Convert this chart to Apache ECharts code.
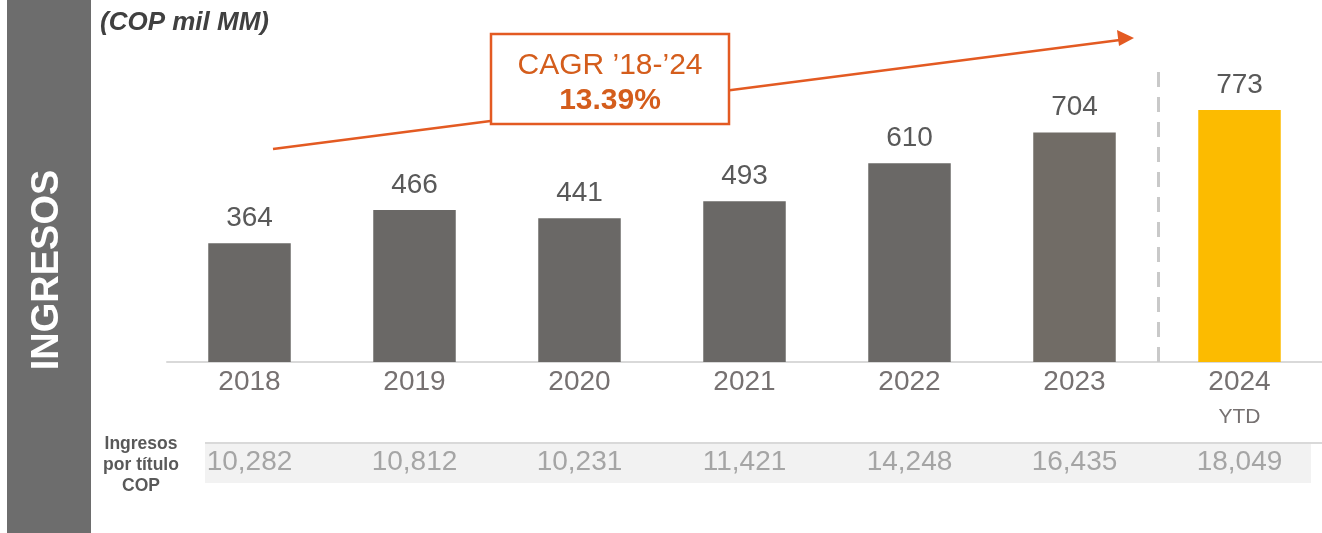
<!DOCTYPE html>
<html>
<head>
<meta charset="utf-8">
<script src="https://cdn.jsdelivr.net/npm/echarts@6/dist/echarts.min.js"></script>
<style>
  html, body { margin: 0; padding: 0; background: #fff; }
  #main { width: 1322px; height: 533px; }
</style>
</head>
<body>
<div id="main"></div>
<script>
var years = ['2018', '2019', '2020', '2021', '2022', '2023', '2024'];
var ingresos = [364, 466, 441, 493, 610, 704, 773];
var porTitulo = ['10,282', '10,812', '10,231', '11,421', '14,248', '16,435', '18,049'];
var barColors = ['#6a6866', '#6a6866', '#6a6866', '#6a6866', '#6a6866', '#716c66', '#fcbb00'];

var myChart = echarts.init(document.getElementById('main'));
var orange = '#e35a22';
var ff = 'Liberation Sans, Arial, sans-serif';

var option = {
	animation: false,
	textStyle: { fontFamily: ff },
	grid: { left: 167, right: -2, top: 36, bottom: 171 },
	xAxis: [
		{
			type: 'category',
			data: years,
			axisLine: { lineStyle: { color: '#d9d9d9', width: 2 } },
			axisTick: { show: false },
			axisLabel: {
				margin: 4,
				formatter: function (v) {
					return v === '2024' ? '{y|' + v + '}\n{t|YTD}' : '{y|' + v + '}';
				},
				rich: {
					y: { fontSize: 28, lineHeight: 32, color: '#767171' },
					t: { fontSize: 21, lineHeight: 38, color: '#767171' }
				}
			}
		},
		{
			type: 'category',
			data: porTitulo,
			position: 'bottom',
			offset: 81,
			axisLine: { show: false },
			axisTick: { show: false },
			axisLabel: { margin: 5, fontSize: 28, color: '#a5a5a5', lineHeight: 28 }
		}
	],
	yAxis: {
		type: 'value',
		min: 0,
		max: 1000,
		show: false,
		splitLine: { show: false }
	},
	series: [
		{
			type: 'bar',
			barWidth: '50%',
			data: ingresos.map(function (v, i) {
				return { value: v, itemStyle: { color: barColors[i] } };
			}),
			label: {
				show: true,
				position: 'top',
				distance: 11,
				fontSize: 28,
				lineHeight: 28,
				color: '#595959'
			},
			markLine: {
				silent: true,
				symbol: 'none',
				label: { show: false },
				lineStyle: { color: '#c9c9c9', type: [15, 10], width: 3 },
				data: [[{ x: 1158, y: 72 }, { x: 1158, y: 362 }]]
			}
		}
	],
	graphic: [
		{ type: 'rect', z: -10, shape: { x: 7, y: 0, width: 84, height: 533 }, style: { fill: '#6d6d6d' } },
		{
			type: 'text', x: 48, y: 270, rotation: Math.PI / 2,
			style: { text: 'INGRESOS', fill: '#fff', font: 'bold 38px ' + ff, align: 'center', verticalAlign: 'middle' }
		},
		{
			type: 'text', x: 100, y: 23,
			style: { text: '(COP mil MM)', fill: '#404040', font: 'italic bold 26px ' + ff, verticalAlign: 'middle' }
		},
		{ type: 'rect', z: -10, shape: { x: 205, y: 444, width: 1106, height: 39 }, style: { fill: '#f2f2f2' } },
		{ type: 'line', z: -9, shape: { x1: 205, y1: 443, x2: 1322, y2: 443 }, style: { stroke: '#d9d9d9', lineWidth: 2 } },
		{
			type: 'text', x: 141, y: 465,
			style: { text: 'Ingresos\npor título\nCOP', fill: '#595959', font: 'bold 17.5px ' + ff, align: 'center', verticalAlign: 'middle', lineHeight: 21 }
		},
		{ type: 'line', z: 10, shape: { x1: 273, y1: 149, x2: 1120, y2: 40 }, style: { stroke: orange, lineWidth: 2.5 } },
		{ type: 'polygon', z: 10, shape: { points: [[1134, 38], [1117, 30], [1119, 46]] }, style: { fill: orange } },
		{ type: 'rect', z: 11, shape: { x: 491, y: 34, width: 238, height: 90 }, style: { fill: '#fff', stroke: orange, lineWidth: 2.5 } },
		{
			type: 'text', z: 12, x: 610, y: 66,
			style: { text: 'CAGR ’18-’24', fill: '#d45d1c', font: '30px ' + ff, align: 'center', verticalAlign: 'middle' }
		},
		{
			type: 'text', z: 12, x: 610, y: 101,
			style: { text: '13.39%', fill: '#d45d1c', font: 'bold 30px ' + ff, align: 'center', verticalAlign: 'middle' }
		}
	]
};

myChart.setOption(option);
</script>
</body>
</html>
